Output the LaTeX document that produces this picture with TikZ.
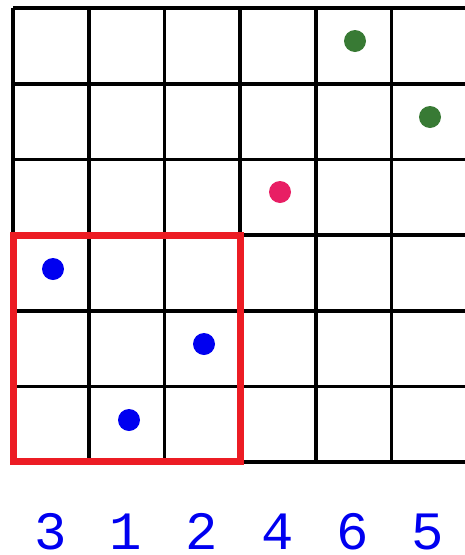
\documentclass[tikz,border=0pt]{standalone}
\usepackage{fontspec}
\newfontfamily\digitfont{Liberation Mono}
\usetikzlibrary{positioning}
\definecolor{dotblue}{RGB}{0,0,240}
\definecolor{dotgreen}{RGB}{56,122,52}
\definecolor{dotpink}{RGB}{232,30,100}
\definecolor{boxred}{RGB}{236,28,36}

\begin{document}
\begin{tikzpicture}[
    x=1pt, y=-1pt,
    gridline/.style={line width=3.6pt},
    dot/.style={circle, inner sep=0pt, minimum size=22pt},
    lbl/.style={text=dotblue, font=\digitfont\fontsize{54}{54}\selectfont, inner sep=0pt, anchor=base}
  ]
  \useasboundingbox (0,0) rectangle (464,555);
  % grid
  \foreach \y in {8,83.7,159.4,235.1,310.8,386.5,462}
    \draw[gridline] (13,\y) -- (466,\y);
  \foreach \x in {13,88.7,164.4,240.1,315.8,391.5}
    \draw[gridline] (\x,8) -- (\x,462);

  % selected block
  \draw[boxred, line width=7pt] (13.5,235.5) rectangle (240,461.5);

  % points
  \node[dot, fill=dotblue]  (p3) at (53,269) {};
  \node[dot, fill=dotblue]  (p1) at (129,420) {};
  \node[dot, fill=dotblue]  (p2) at (204,344) {};
  \node[dot, fill=dotpink]  (p4) at (280,192) {};
  \node[dot, fill=dotgreen] (p6) at (355,41) {};
  \node[dot, fill=dotgreen] (p5) at (430,117) {};

  % order
  \node[lbl] (l3) at (51,549) {3};
  \node[lbl] (l1) at (126,549) {1};
  \node[lbl] (l2) at (202,549) {2};
  \node[lbl] (l4) at (278,549) {4};
  \node[lbl] (l6) at (353,549) {6};
  \node[lbl] (l5) at (428,549) {5};
\end{tikzpicture}
\end{document}
